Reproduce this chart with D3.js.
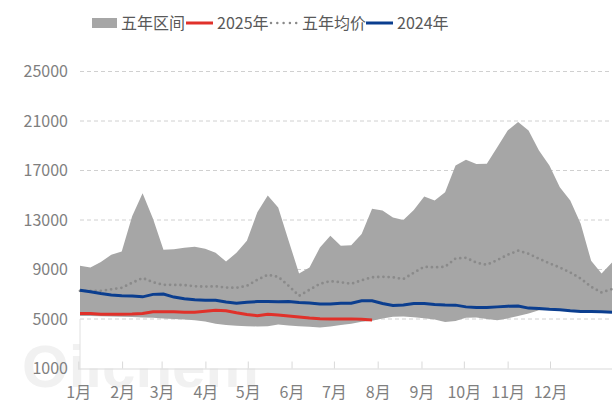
<!DOCTYPE html>
<html><head><meta charset="utf-8">
<script src="https://cdn.jsdelivr.net/npm/d3@7"></script>
<style>
html,body{margin:0;padding:0;background:#fff;}
svg{display:block;font-family:"Noto Sans CJK SC","Noto Sans",sans-serif;}
</style></head>
<body><svg id="c" width="613" height="412"></svg>
<script>
const months = ["1月","2月","3月","4月","5月","6月","7月","8月","9月","10月","11月","12月"];
const yTicks = [1000,5000,9000,13000,17000,21000,25000];
const rangeMax = [9300,9160,9600,10200,10460,13300,15160,13100,10600,10640,10760,10840,10680,10350,9650,10350,11330,13620,14970,14020,11330,8680,9160,10780,11730,10920,10960,11870,13900,13760,13210,13000,13810,14890,14570,15240,17400,17860,17520,17540,18880,20240,20910,20240,18620,17400,15650,14570,12700,9700,8680,9570];
const rangeMin = [5250,5250,5230,5200,5180,5160,5130,5110,5050,5000,4950,4900,4800,4620,4520,4450,4420,4400,4420,4560,4480,4420,4380,4320,4400,4520,4620,4780,4850,5050,5180,5200,5150,5060,4950,4750,4830,5100,5120,4990,4900,5050,5250,5450,5700,5720,5700,5640,5590,5580,5560,5540];
const avg5 = [7280,7280,7280,7400,7520,7930,8310,7970,7760,7760,7740,7640,7620,7640,7540,7520,7680,8170,8570,8410,7680,6870,7360,7840,8060,7970,7840,8130,8370,8410,8370,8230,8740,9220,9180,9220,9890,9950,9550,9380,9760,10190,10520,10270,9870,9500,9160,8760,8270,7600,7140,7420];
const y2024 = [7330,7200,7060,6940,6870,6850,6790,6990,7010,6770,6630,6550,6520,6520,6370,6270,6360,6410,6410,6390,6410,6330,6290,6220,6210,6270,6270,6470,6470,6250,6100,6140,6250,6250,6180,6140,6120,5980,5920,5920,5980,6040,6050,5880,5850,5780,5740,5660,5600,5600,5580,5550];
const y2025 = [5440,5440,5390,5390,5390,5400,5440,5580,5580,5580,5550,5540,5620,5700,5660,5500,5370,5270,5390,5330,5250,5170,5090,5030,5000,5000,5010,4970,4910];

const svg = d3.select("#c");
const x = d3.scaleLinear().domain([0, rangeMax.length-1]).range([80, 612]);
const xm = d3.scaleTime().domain([new Date(2025,0,1), new Date(2025,11,1)]).range([78.3, 550]);
const y = d3.scaleLinear().domain([1000, 25000]).range([368.5, 71.5]);

// watermark (covered by the plot area, as in the source)
svg.append("text").attr("x",22).attr("y",387).attr("font-size",60).attr("font-weight","bold")
  .attr("font-family","Arial, Liberation Sans, sans-serif").attr("fill","#F1F1F1")
  .text("Oilchem");
svg.append("rect").attr("x",80).attr("y",60).attr("width",533).attr("height",y(1000)-60).attr("fill","#fff");

// gridlines
svg.append("g").selectAll("line").data(yTicks.filter(d=>d>1000)).join("line")
  .attr("x1",80).attr("x2",612).attr("y1",d=>y(d)).attr("y2",d=>y(d))
  .attr("stroke","#D0D0D0").attr("stroke-width",1).attr("stroke-dasharray","4,3");

// y labels
svg.append("g").selectAll("text").data(yTicks).join("text")
  .attr("x",68).attr("y",d=>y(d)).attr("dy","0.36em").attr("text-anchor","end")
  .attr("font-size",16).attr("fill","#7F7F7F").text(d=>d);

// band
const idx = d3.range(rangeMax.length);
svg.append("path").datum(idx)
  .attr("d", d3.area().x(i=>x(i)).y0(i=>y(rangeMin[i])).y1(i=>y(rangeMax[i])))
  .attr("fill","#A6A6A6");

// axis lines
svg.append("line").attr("x1",80).attr("x2",80).attr("y1",y(5000)).attr("y2",y(1000)).attr("stroke","#E0E0E0");

const xAxis = d3.axisBottom(xm).tickValues(months.map((m,i)=>new Date(2025,i,1)))
  .tickFormat((d,i)=>months[i]).tickSizeInner(-7).tickSizeOuter(0).tickPadding(18);
const gx = svg.append("g").attr("transform",`translate(0,${y(1000)})`).call(xAxis);
gx.select(".domain").remove();
gx.selectAll(".tick line").attr("stroke","#D9D9D9");
gx.selectAll(".tick text").attr("font-size",16).attr("fill","#7F7F7F").attr("font-family","Noto Sans CJK SC");
svg.append("line").attr("x1",78).attr("x2",612).attr("y1",y(1000)+0.5).attr("y2",y(1000)+0.5).attr("stroke","#D9D9D9");

const line = arr => d3.line().x((d,i)=>x(i)).y(d=>y(d))(arr);
svg.append("path").attr("d",line(avg5)).attr("fill","none").attr("stroke","#8A8A8A")
  .attr("stroke-width",2.8).attr("stroke-linecap","round").attr("stroke-dasharray","0,5.2");
svg.append("path").attr("d",line(y2024)).attr("fill","none").attr("stroke","#0B3E8F").attr("stroke-width",3);
svg.append("path").attr("d",line(y2025)).attr("fill","none").attr("stroke","#E0312A").attr("stroke-width",3);

// legend
const lg = svg.append("g").attr("font-size",16).attr("fill","#595959");
lg.append("rect").attr("x",92).attr("y",18).attr("width",25).attr("height",10).attr("fill","#A6A6A6");
lg.append("text").attr("x",121).attr("y",23).attr("dy","0.36em").text("五年区间");
lg.append("line").attr("x1",186).attr("x2",213).attr("y1",23).attr("y2",23).attr("stroke","#E0312A").attr("stroke-width",3);
lg.append("text").attr("x",217).attr("y",23).attr("dy","0.36em").text("2025年");
lg.append("line").attr("x1",271).attr("x2",297).attr("y1",23).attr("y2",23).attr("stroke","#8A8A8A").attr("stroke-width",2.5).attr("stroke-linecap","round").attr("stroke-dasharray","0,6.3");
lg.append("text").attr("x",302).attr("y",23).attr("dy","0.36em").text("五年均价");
lg.append("line").attr("x1",366).attr("x2",393).attr("y1",23).attr("y2",23).attr("stroke","#0B3E8F").attr("stroke-width",3);
lg.append("text").attr("x",397).attr("y",23).attr("dy","0.36em").text("2024年");
</script></body></html>
